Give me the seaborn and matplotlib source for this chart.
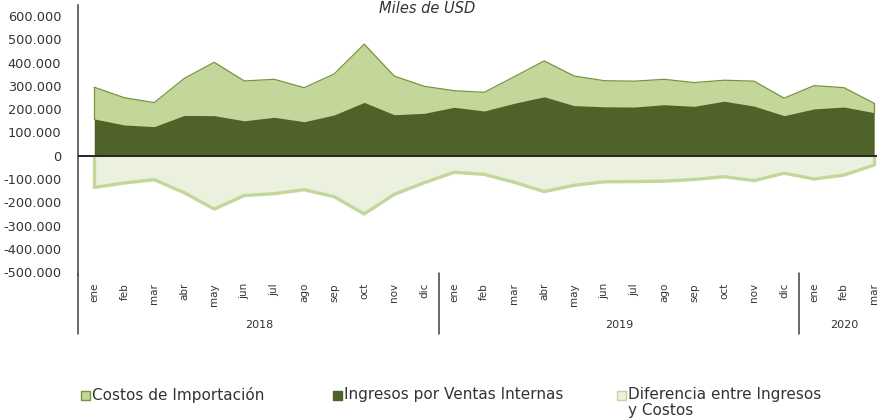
import matplotlib
matplotlib.use("Agg")
import matplotlib.pyplot as plt
import matplotlib.transforms as mtransforms
from matplotlib.patches import Rectangle
import numpy as np
import pandas as pd
import seaborn as sns

# ---------------- data (miles de USD) ----------------
months = ["ene", "feb", "mar", "abr", "may", "jun", "jul", "ago", "sep", "oct", "nov", "dic",
          "ene", "feb", "mar", "abr", "may", "jun", "jul", "ago", "sep", "oct", "nov", "dic",
          "ene", "feb", "mar"]
years = ["2018", "2019", "2020"]
year_counts = [12, 12, 3]

costos = [294, 249, 228, 332, 401, 321, 328, 292, 351, 479, 342, 298,
          279, 272, 339, 407, 342, 322, 320, 328, 314, 324, 320, 247,
          301, 292, 225]
ingresos = [158, 132, 125, 173, 172, 150, 165, 146, 175, 229, 176, 182,
            208, 192, 225, 253, 215, 210, 209, 219, 212, 234, 213, 172,
            201, 209, 185]
diferencia = [-136, -117, -103, -159, -229, -171, -163, -146, -176, -250, -166, -116,
              -71, -80, -114, -154, -127, -112, -111, -109, -102, -90, -107, -75,
              -100, -83, -40]

y_ticks = [-500000, -400000, -300000, -200000, -100000, 0,
           100000, 200000, 300000, 400000, 500000, 600000]

df = pd.DataFrame({
    "idx": np.arange(len(months)),
    "mes": months,
    "costos": np.array(costos) * 1000,
    "ingresos": np.array(ingresos) * 1000,
    "diferencia": np.array(diferencia) * 1000,
})

# ---------------- style ----------------
sns.set_theme(style="white")
plt.rcParams["font.family"] = ["DejaVu Sans"]

C_COST_FILL = "#c4d79b"
C_COST_EDGE = "#77933c"
C_ING = "#4f6228"
C_DIF_FILL = "#ebf1de"
C_DIF_LINE = "#c4d79b"
C_AXIS = "#404040"
C_TEXT = "#333333"

W, H = 878, 420
fig = plt.figure(figsize=(W / 100, H / 100), dpi=100)

ax_left, ax_top, ax_bottom = 78, 5, 275
ax = fig.add_axes([ax_left / W, 1 - ax_bottom / H, 1 - ax_left / W, (ax_bottom - ax_top) / H])

# difference (negative) area
ax.fill_between(df["idx"], 0, df["diferencia"], color=C_DIF_FILL, lw=0, zorder=1)
sns.lineplot(data=df, x="idx", y="diferencia", ax=ax, color=C_DIF_LINE, lw=2.4, zorder=2)

# costs area
ax.fill_between(df["idx"], 0, df["costos"], color=C_COST_FILL, lw=0, zorder=3)
sns.lineplot(data=df, x="idx", y="costos", ax=ax, color=C_COST_EDGE, lw=0.9, zorder=4)

# income area
ax.fill_between(df["idx"], 0, df["ingresos"], color=C_ING, lw=0, zorder=5)

# vertical edges at the first and last category
for row in (df.iloc[0], df.iloc[-1]):
    ax.plot([row["idx"], row["idx"]], [0, row["diferencia"]], color=C_DIF_LINE, lw=2.4,
            zorder=2, solid_capstyle="butt")
    ax.plot([row["idx"], row["idx"]], [row["ingresos"], row["costos"]], color=C_COST_EDGE,
            lw=0.9, zorder=4)

ax.axhline(0, color="#262626", lw=1.4, zorder=6)

# axes limits
ax.set_xlim(-0.543, 26.13)
ax.set_ylim(-512000, 647000)

ax.set_yticks(y_ticks)
ax.set_yticklabels([("0" if v == 0 else f"{v:,}".replace(",", ".")) for v in y_ticks],
                   fontsize=9.3, color=C_TEXT)
ax.set_xticks(df["idx"])
ax.set_xticklabels(months, rotation=90, fontsize=7.5, color=C_TEXT)
ax.tick_params(axis="y", length=0, pad=12)
ax.tick_params(axis="x", length=0, pad=5.8)
ax.set_xlabel("")
ax.set_ylabel("")

for s in ["top", "right", "bottom"]:
    ax.spines[s].set_visible(False)
ax.spines["left"].set_color(C_AXIS)
ax.spines["left"].set_linewidth(1.1)

# multi-level category axis: separators and year labels
trans = mtransforms.blended_transform_factory(ax.transData, fig.transFigure)
ax.plot([-0.543, -0.543], [1 - 274 / H, 1 - 334 / H], transform=trans, color=C_AXIS,
        lw=1.1, clip_on=False)
start = 0
for yr, n in zip(years, year_counts):
    center = start + (n - 1) / 2
    ax.text(center, 1 - 325 / H, yr, transform=trans, ha="center", va="center",
            fontsize=8, color=C_TEXT)
    end = start + n
    if end < len(months):
        ax.plot([end - 0.5, end - 0.5], [1 - 273 / H, 1 - 334 / H], transform=trans,
                color=C_AXIS, lw=1.1, clip_on=False)
    start = end

# title (kept fully visible at the top)
fig.text(427 / W, 1 - 1 / H, "Miles de USD", ha="center", va="top",
         fontsize=10.5, style="italic", color=C_TEXT)

# legend (manual)
legend_items = [
    (81, C_COST_FILL, C_COST_EDGE, "Costos de Importación"),
    (333, C_ING, C_ING, "Ingresos por Ventas Internas"),
    (617, C_DIF_FILL, C_DIF_LINE, "Diferencia entre Ingresos\ny Costos"),
]
for x0, fc, ec, label in legend_items:
    fig.add_artist(Rectangle((x0 / W, 1 - 400 / H), 9 / W, 9 / H, transform=fig.transFigure,
                             facecolor=fc, edgecolor=ec, lw=1.0))
    fig.text((x0 + 11) / W, 1 - 387 / H, label, ha="left", va="top", fontsize=11,
             color=C_TEXT, linespacing=1.05)

fig.savefig("out.png", dpi=100)
